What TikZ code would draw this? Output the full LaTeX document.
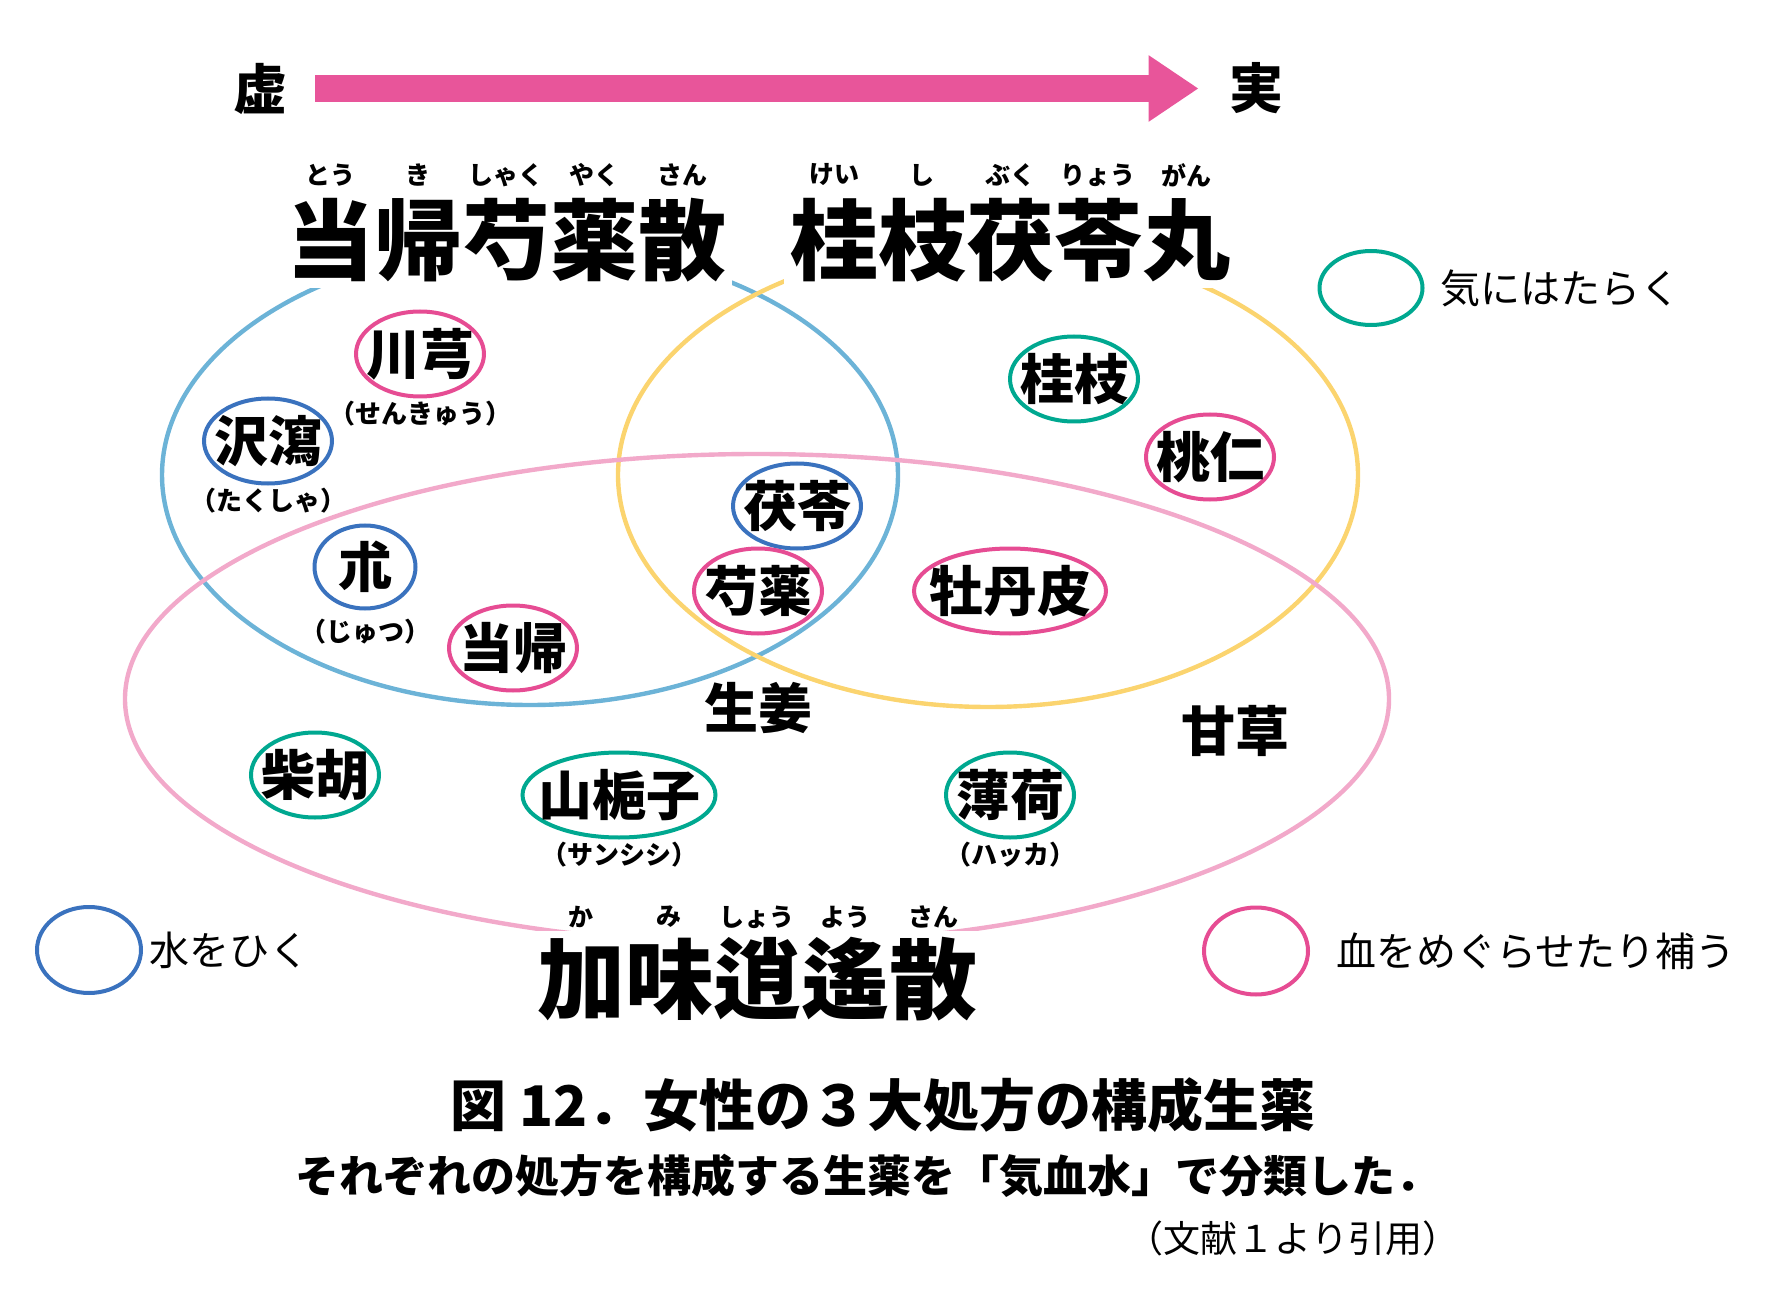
\documentclass[tikz,border=0pt]{standalone}
\usepackage{fontspec}
\newfontfamily\jp{Noto Sans CJK JP}
\usetikzlibrary{positioning,shapes.geometric,arrows.meta}
\definecolor{arrowpink}{HTML}{E8559A}
\definecolor{ketsupink}{HTML}{E64C93}
\definecolor{suiblue}{HTML}{3A72BE}
\definecolor{kigreen}{HTML}{00A890}
\definecolor{ringblue}{HTML}{6CB3D7}
\definecolor{ringyellow}{HTML}{FBD46F}
\definecolor{ringpink}{HTML}{F2A9CA}
\newcommand{\fs}[1]{\fontsize{#1}{#1}\selectfont}

\begin{document}
\begin{tikzpicture}[
		x=0.5pt, y=-0.5pt,
		every node/.style={font=\jp},
		herb/.style={ellipse, draw, line width=2pt, fill=white, inner xsep=-9pt, inner ysep=-6pt,
			minimum width=64pt, minimum height=42.5pt, font=\jp\bfseries\fs{27pt}},
		ki/.style={herb, draw=kigreen},
		ketsu/.style={herb, draw=ketsupink},
		sui/.style={herb, draw=suiblue},
		plain/.style={font=\jp\bfseries\fs{27pt}, inner sep=0pt},
		yomi/.style={font=\jp\bfseries\fs{13pt}, inner sep=1pt},
		ruby/.style={font=\jp\bfseries\fs{12.5pt}, inner sep=0pt},
		title/.style={font=\jp\bfseries\fs{44pt}, fill=white, inner sep=3pt},
		ring/.style={line width=2.2pt},
		legend/.style={ellipse, draw, line width=2pt, minimum width=52pt, inner sep=0pt},
		legtext/.style={font=\jp\fs{20pt}, inner sep=0pt}
	]
	\useasboundingbox (0,0) rectangle (1772,1299);

	\node[plain] (kyo) at (260,88.5) {虚};
	\node[plain] (jitsu) at (1256,88.5) {実};
	\draw[-{Triangle[length=25pt,width=31.5pt]}, line width=13.5pt, arrowpink,
		shorten <=14pt, shorten >=15pt] (kyo) -- (jitsu);

	\draw[ring, ringblue] (530,475) ellipse [x radius=368, y radius=230];
	\draw[ring, ringyellow] (988,475) ellipse [x radius=370, y radius=232];
	\draw[ring, ringpink] (757,699) ellipse [x radius=632, y radius=245];

	\node[title] (tokishakuyakusan) at (506,240) {当帰芍薬散};
	\node[title] (keishibukuryogan) at (1010,240) {桂枝茯苓丸};
	\node[title] (kamishoyosan) at (757,979) {加味逍遙散};
	\foreach \r [count=\i] in {とう,き,しゃく,やく,さん}
		\node[ruby] (rt\i) at ({330+88*(\i-1)},175) {\r};
	\foreach \r [count=\i] in {けい,し,ぶく,りょう,がん}
		\node[ruby] (rk\i) at ({834+88*(\i-1)},175) {\r};
	\foreach \r [count=\i] in {か,み,しょう,よう,さん}
		\node[ruby] (rs\i) at ({581+88*(\i-1)},917) {\r};

	\node[ketsu] (senkyu) at (420,354) {川芎};
	\node[yomi, below=0pt of senkyu] (senkyu-y) {（せんきゅう）};
	\node[sui] (takusha) at (268,441) {沢瀉};
	\node[yomi, below=0pt of takusha] (takusha-y) {（たくしゃ）};
	\node[sui, minimum width=50.5pt, minimum height=41.5pt] (jutsu) at (365,567) {朮};
	\node[yomi, below=3pt of jutsu] (jutsu-y) {（じゅつ）};
	\node[ketsu] (toki) at (513,648) {当帰};
	\node[sui] (bukuryo) at (797,506) {茯苓};
	\node[ketsu] (shakuyaku) at (758,591) {芍薬};
	\node[ki] (keishi) at (1074,379) {桂枝};
	\node[ketsu] (tonin) at (1210,457) {桃仁};
	\node[ketsu, minimum width=96pt] (botanpi) at (1010,591) {牡丹皮};
	\node[ki] (saiko) at (315,775) {柴胡};
	\node[ki, minimum width=96.5pt] (sanshishi) at (619,795) {山梔子};
	\node[yomi, below=0pt of sanshishi] (sanshishi-y) {（サンシシ）};
	\node[ki] (hakka) at (1010,795) {薄荷};
	\node[yomi, below=0pt of hakka] (hakka-y) {（ハッカ）};
	\node[plain] (shokyo) at (758,708) {生姜};
	\node[plain] (kanzo) at (1235,731) {甘草};

	\node[legend, draw=kigreen, minimum width=51.5pt, minimum height=37pt] (legki) at (1371,288) {};
	\node[legtext, right=8pt of legki] (legki-t) {気にはたらく};
	\node[legend, draw=suiblue, minimum height=43pt] (legsui) at (89,950) {};
	\node[legtext, right=3pt of legsui] (legsui-t) {水をひく};
	\node[legend, draw=ketsupink, minimum height=43.5pt] (legketsu) at (1256,951) {};
	\node[legtext, right=13pt of legketsu] (legketsu-t) {血をめぐらせたり補う};

	\node[font=\jp\bfseries\fs{28pt}] (zu) at (883,1105) {図 12．女性の３大処方の構成生薬};
	\node[font=\jp\bfseries\fs{22pt}] (setsumei) at (867,1176) {それぞれの処方を構成する生薬を「気血水」で分類した．};
	\node[font=\jp\fs{18.5pt}] (inyo) at (1293,1238) {（文献１より引用）};
\end{tikzpicture}
\end{document}
